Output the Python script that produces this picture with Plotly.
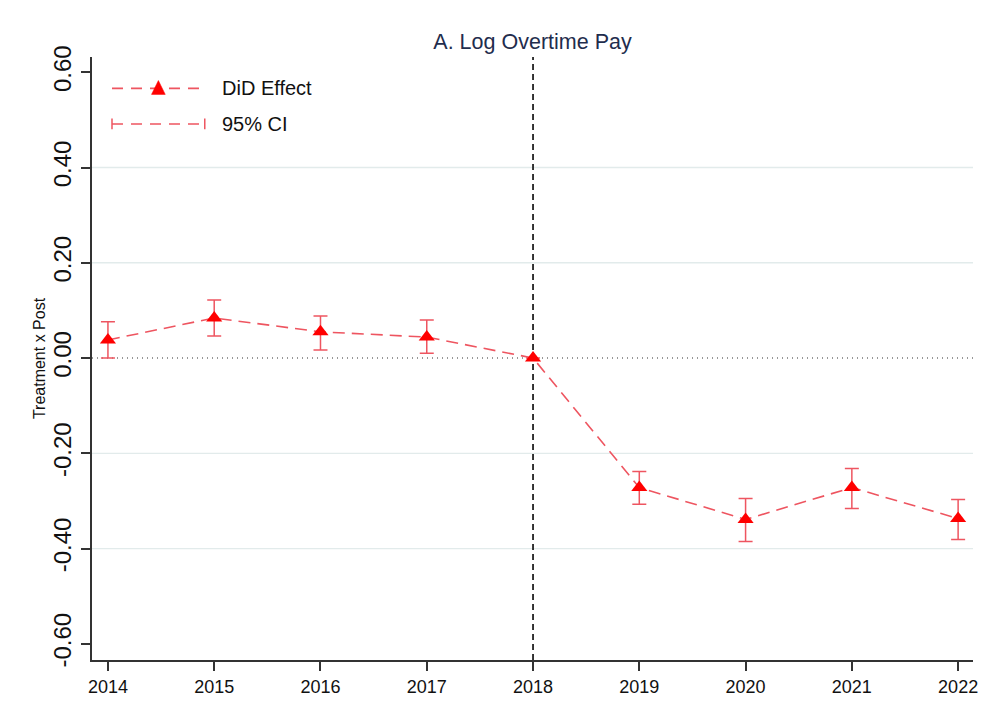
import plotly.graph_objects as go

years = [2014, 2015, 2016, 2017, 2018, 2019, 2020, 2021, 2022]
effect = [0.038, 0.084, 0.055, 0.044, 0.0, -0.272, -0.339, -0.272, -0.337]
ci_upper = [0.076, 0.122, 0.088, 0.080, 0.0, -0.238, -0.295, -0.232, -0.297]
ci_lower = [0.000, 0.046, 0.017, 0.010, 0.0, -0.307, -0.385, -0.316, -0.381]
y_ticks = [-0.6, -0.4, -0.2, 0.0, 0.2, 0.4, 0.6]
y_tick_text = ["-0.60", "-0.40", "-0.20", "0.00", "0.20", "0.40", "0.60"]
grid_vals = [-0.4, -0.2, 0.2, 0.4]
event_year = 2018

LINE_RED = "#ee5560"
FONT = "Liberation Sans, Arial, sans-serif"

err_plus = [u - e for u, e in zip(ci_upper, effect)]
err_minus = [e - l for e, l in zip(effect, ci_lower)]

fig = go.Figure()
fig.add_trace(go.Scatter(
    x=years, y=effect, mode="lines+markers",
    line=dict(color=LINE_RED, width=1.6, dash="12px,7px"),
    marker=dict(symbol="triangle-up", size=14, color="#ff0000"),
    error_y=dict(type="data", symmetric=False, array=err_plus, arrayminus=err_minus,
                 color=LINE_RED, thickness=1.5, width=7),
    showlegend=False,
))

# gridlines
for g in grid_vals:
    fig.add_shape(type="line", xref="paper", x0=0, x1=1, yref="y", y0=g, y1=g,
                  line=dict(color="#e2ebeb", width=1.3), layer="below")
# zero line
fig.add_shape(type="line", xref="paper", x0=0, x1=1, yref="y", y0=0, y1=0,
              line=dict(color="#333333", width=1.2, dash="1px,4px"), layer="below")
# event line
fig.add_shape(type="line", xref="x", x0=event_year, x1=event_year, yref="paper", y0=0, y1=1,
              line=dict(color="#222222", width=1.8, dash="6px,4px"), layer="below")

# manual legend
lx0, lx1 = 0.0227, 0.128
ly1, ly2 = 0.948, 0.889
fig.add_shape(type="line", xref="paper", yref="paper", x0=lx0, x1=lx1, y0=ly1, y1=ly1,
              line=dict(color=LINE_RED, width=1.6, dash="11px,8px"))
tx = (lx0 + lx1) / 2
fig.add_shape(type="path", xref="paper", yref="paper",
              path=f"M {tx-0.0078},{ly1-0.010} L {tx+0.0078},{ly1-0.010} L {tx},{ly1+0.013} Z",
              fillcolor="#ff0000", line=dict(color="#ff0000", width=0.5))
fig.add_shape(type="line", xref="paper", yref="paper", x0=lx0, x1=lx1, y0=ly2, y1=ly2,
              line=dict(color=LINE_RED, width=1.6, dash="11px,8px"))
for cx in (lx0, lx1):
    fig.add_shape(type="line", xref="paper", yref="paper", x0=cx, x1=cx, y0=ly2 - 0.009, y1=ly2 + 0.009,
                  line=dict(color=LINE_RED, width=1.5))
fig.add_annotation(xref="paper", yref="paper", x=0.145, y=ly1, text="DiD Effect", showarrow=False,
                   xanchor="left", yanchor="middle", font=dict(family=FONT, size=20, color="#111111"))
fig.add_annotation(xref="paper", yref="paper", x=0.145, y=ly2, text="95% CI", showarrow=False,
                   xanchor="left", yanchor="middle", font=dict(family=FONT, size=20, color="#111111"))

# page body adds an 8px offset; size figure so the plot area lands where the reference has it
fig.update_layout(
    width=984, height=711,
    margin=dict(l=84, r=19, t=49, b=59),
    paper_bgcolor="white", plot_bgcolor="white",
    title=dict(text="A. Log Overtime Pay", x=0.5, xref="paper", xanchor="center",
               y=1 - 33 / 711, yref="container", yanchor="middle",
               font=dict(family=FONT, size=21.5, color="#1f2d4d")),
    font=dict(family=FONT),
    xaxis=dict(range=[2013.85, 2022.14], tickvals=years, ticktext=[str(y) for y in years],
               showgrid=False, zeroline=False, showline=True, linecolor="#333333", linewidth=2,
               ticks="outside", ticklen=9, tickwidth=2, tickcolor="#333333",
               tickfont=dict(family=FONT, size=18, color="#111111")),
    yaxis=dict(range=[-0.634, 0.632], tickvals=y_ticks, ticktext=y_tick_text, tickangle=-90,
               showgrid=False, zeroline=False, showline=True, linecolor="#333333", linewidth=2,
               ticks="outside", ticklen=9, tickwidth=2, tickcolor="#333333",
               tickfont=dict(family=FONT, size=24, color="#111111"),
               title=dict(text="Treatment x Post", font=dict(family=FONT, size=16, color="#111111"),
                          standoff=0)),
)

fig.write_html("out.html")
